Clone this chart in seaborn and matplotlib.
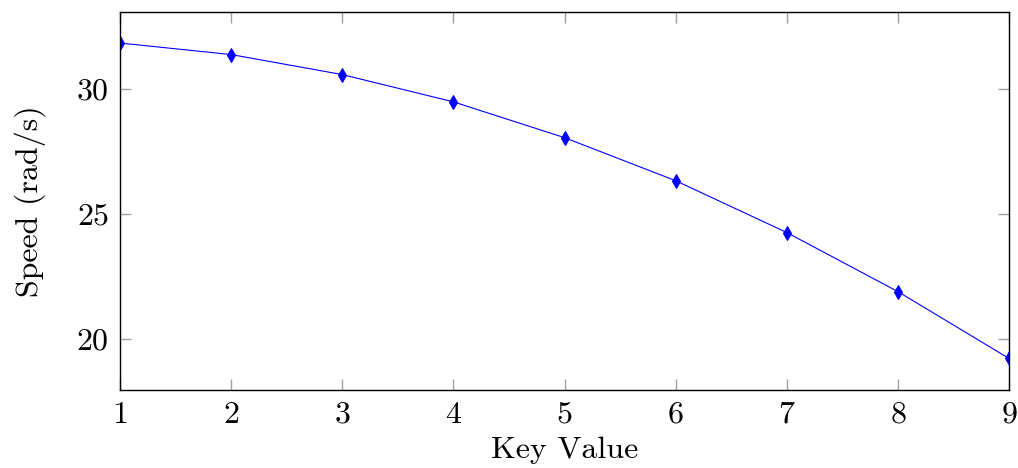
import matplotlib
matplotlib.use('Agg')
import matplotlib.pyplot as plt
import seaborn as sns
import pandas as pd

# data
key_values = [1, 2, 3, 4, 5, 6, 7, 8, 9]
speeds = [31.82, 31.36, 30.56, 29.47, 28.04, 26.32, 24.25, 21.89, 19.22]
y_ticks = [20, 25, 30]

df = pd.DataFrame({'Key Value': key_values, 'Speed': speeds})

sns.set_style('ticks')
plt.rcParams['font.family'] = ['cmr10', 'DejaVu Serif']
plt.rcParams['axes.formatter.use_mathtext'] = True
plt.rcParams['axes.unicode_minus'] = False
plt.rcParams['text.color'] = 'black'
plt.rcParams['axes.labelcolor'] = 'black'
plt.rcParams['xtick.labelcolor'] = 'black'
plt.rcParams['ytick.labelcolor'] = 'black'

fig = plt.figure(figsize=(10.18, 4.68), dpi=100)
ax = fig.add_axes([0.1179, 0.1667, 0.9912 - 0.1179, 0.9733 - 0.1667])

sns.lineplot(data=df, x='Key Value', y='Speed', ax=ax, color='blue',
             marker='d', markersize=7, markeredgecolor='blue', linewidth=0.8)

ax.set_xlim(1, 9)
ax.set_ylim(17.96, 33.04)
ax.set_xticks(key_values)
ax.set_yticks(y_ticks)
ax.tick_params(direction='in', length=8, width=1, color='#a0a0a0',
               top=True, right=True, labelsize=23, pad=8,
               labelcolor='black')
for s in ax.spines.values():
    s.set_linewidth(1)
    s.set_color('black')
    s.set_visible(True)

ax.set_xlabel('Key Value', fontsize=23, labelpad=6, color='black')
ax.set_ylabel('Speed (rad/s)', fontsize=23, labelpad=22, color='black')

fig.savefig('out.png', dpi=100)
